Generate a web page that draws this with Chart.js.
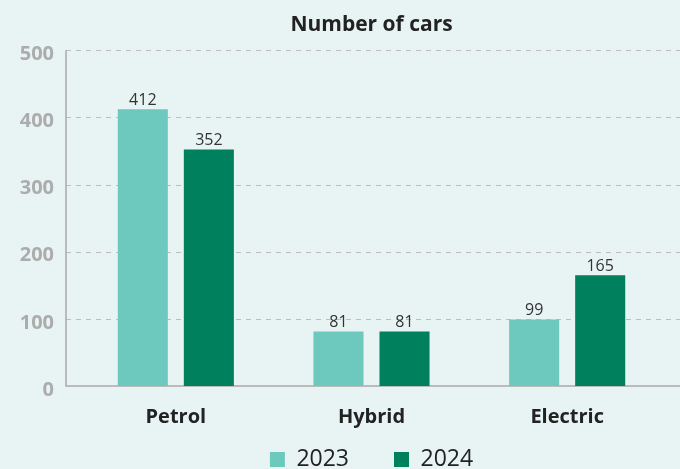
<!DOCTYPE html>
<html>
<head>
<meta charset="utf-8">
<script src="https://cdn.jsdelivr.net/npm/chart.js@4"></script>
<style>
  html, body { margin: 0; padding: 0; overflow: hidden; background: #e8f4f3; }
  #wadah { width: 680px; height: 481px; position: relative; }
</style>
</head>
<body>
<div id="wadah"><canvas id="chartMobil"></canvas></div>
<script>
// data dari gambar
const kategori = ['Petrol', 'Hybrid', 'Electric'];
const tahun = ['2023', '2024'];
const nilai2023 = [412, 81, 99];
const nilai2024 = [352, 81, 165];
const tickY = [0, 100, 200, 300, 400, 500];

const warnaMuda = '#6dc9bd';
const warnaTua = '#00805c';
const warnaGaris = '#bdbdbd';
const warnaSumbu = '#a9a9a9';
const font = "'Open Sans', sans-serif";

// garis bantu putus-putus + sumbu digambar sendiri biar lebih lebar dari area chart
const pluginGaris = {
  id: 'garisBantu',
  afterLayout(chart) {
    // label sumbu x jangan kepotong (area clip label ngikut kotak scale)
    chart.scales.x.bottom = chart.height;
  },
  beforeDatasetsDraw(chart) {
    const { ctx, scales: { y } } = chart;
    const kiri = 66, kanan = 680;
    ctx.save();
    ctx.strokeStyle = warnaGaris;
    ctx.lineWidth = 1;
    ctx.setLineDash([5, 5]);
    y.ticks.forEach(t => {
      if (t.value === 0) return;
      const py = Math.round(y.getPixelForValue(t.value)) + 0.5;
      ctx.beginPath();
      ctx.moveTo(kiri, py);
      ctx.lineTo(kanan, py);
      ctx.stroke();
    });
    ctx.setLineDash([]);
    ctx.strokeStyle = warnaSumbu;
    ctx.lineWidth = 1.5;
    const atas = y.getPixelForValue(500);
    const bawah = y.getPixelForValue(0);
    ctx.beginPath();
    ctx.moveTo(kiri, atas);
    ctx.lineTo(kiri, bawah);
    ctx.lineTo(kanan, bawah);
    ctx.stroke();
    ctx.restore();
  },
  afterDatasetsDraw(chart) {
    // angka di atas batang
    const { ctx } = chart;
    ctx.save();
    ctx.font = '16px ' + font;
    ctx.fillStyle = '#333';
    ctx.textAlign = 'center';
    ctx.textBaseline = 'bottom';
    chart.data.datasets.forEach((ds, i) => {
      chart.getDatasetMeta(i).data.forEach((bar, j) => {
        ctx.fillText(ds.data[j], bar.x, bar.y - 1);
      });
    });
    ctx.restore();
  }
};

new Chart(document.getElementById('chartMobil'), {
  type: 'bar',
  data: {
    labels: kategori,
    datasets: [
      { label: tahun[0], data: nilai2023, backgroundColor: warnaMuda },
      { label: tahun[1], data: nilai2024, backgroundColor: warnaTua }
    ]
  },
  options: {
    responsive: true,
    maintainAspectRatio: false,
    animation: false,
    barPercentage: 0.758,
    categoryPercentage: 0.675,
    layout: { padding: { right: 15, top: 0, bottom: 0 } },
    plugins: {
      title: {
        display: true,
        text: 'Number of cars',
        fullSize: false,
        color: '#222',
        font: { family: font, size: 21, weight: 'bold' },
        padding: { top: 12, bottom: 13 }
      },
      legend: {
        position: 'bottom',
        fullSize: false,
        labels: {
          color: '#222',
          font: { family: font, size: 23 },
          boxWidth: 15,
          boxHeight: 15,
          padding: 45
        }
      },
      tooltip: { enabled: false }
    },
    scales: {
      x: {
        // tinggi dipaksa kecil, label tetep kegambar di bawah chart
        afterFit: s => { s.height = 17; },
        grid: { display: false },
        border: { display: false },
        ticks: {
          color: '#222',
          font: { family: font, size: 20, weight: 'bold' },
          padding: 11
        }
      },
      y: {
        min: 0,
        max: 500,
        afterBuildTicks: s => { s.ticks = tickY.map(v => ({ value: v })); },
        afterFit: s => { s.width = 78; },
        grid: { display: false },
        border: { display: false },
        ticks: {
          color: '#acacac',
          font: { family: font, size: 20, weight: 'bold' },
          padding: 16,
          labelOffset: 4
        }
      }
    }
  },
  plugins: [pluginGaris]
});
</script>
</body>
</html>
